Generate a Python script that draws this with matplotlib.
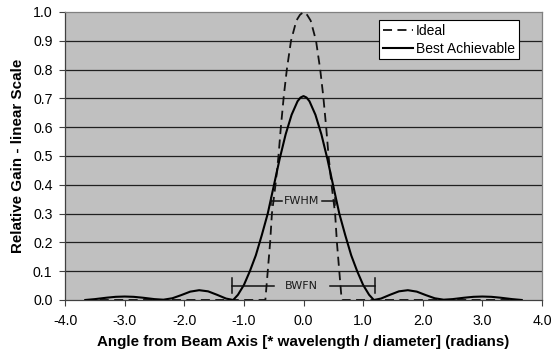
import matplotlib
matplotlib.use('Agg')
import matplotlib.pyplot as plt

plt.rcParams['font.family'] = ['Liberation Sans', 'DejaVu Sans']

# Best achievable pattern
best_x = [-3.66, -3.5, -3.3, -3.15, -3.0, -2.85, -2.7, -2.5, -2.35, -2.2, -2.05,
          -1.9, -1.75, -1.6, -1.45, -1.3, -1.18, -1.1, -1.0, -0.9, -0.8, -0.7,
          -0.6, -0.5, -0.4, -0.3, -0.2, -0.1, -0.05, 0.0,
          0.05, 0.1, 0.2, 0.3, 0.4, 0.5, 0.6, 0.7, 0.8, 0.9, 1.0, 1.1, 1.18, 1.3,
          1.45, 1.6, 1.75, 1.9, 2.05, 2.2, 2.35, 2.5, 2.7, 2.85, 3.0, 3.15,
          3.3, 3.5, 3.66]
best_y = [0.000, 0.003, 0.008, 0.011, 0.012, 0.011, 0.008, 0.003, 0.001, 0.006, 0.017,
          0.029, 0.034, 0.030, 0.018, 0.005, 0.000, 0.018, 0.052, 0.100, 0.155, 0.225,
          0.300, 0.395, 0.490, 0.575, 0.643, 0.690, 0.703, 0.708,
          0.703, 0.690, 0.643, 0.575, 0.490, 0.395, 0.300, 0.225, 0.155, 0.100, 0.052, 0.018, 0.000, 0.005,
          0.018, 0.030, 0.034, 0.029, 0.017, 0.006, 0.001, 0.003, 0.008, 0.011, 0.012, 0.011,
          0.008, 0.003, 0.000]

# Ideal pattern
ideal_x = [-3.66, -0.64, -0.60, -0.56, -0.53, -0.47, -0.42, -0.38, -0.33, -0.28,
           -0.21, -0.12, -0.06, 0.0, 0.06, 0.12, 0.21, 0.28, 0.33, 0.38, 0.42,
           0.47, 0.53, 0.56, 0.60, 0.64, 3.66]
ideal_y = [0.0, 0.0, 0.10, 0.20, 0.30, 0.40, 0.50, 0.60, 0.71, 0.80,
           0.90, 0.97, 0.99, 1.0, 0.99, 0.97, 0.90, 0.80, 0.71, 0.60, 0.50,
           0.40, 0.30, 0.20, 0.10, 0.0, 0.0]

# annotation brackets: (left end, inner end, inner start, right end, height)
fwhm = (-0.55, -0.36, 0.31, 0.52, 0.342)
bwfn = (-1.20, -0.49, 0.45, 1.20, 0.049)

fig = plt.figure(figsize=(5.51, 3.60), dpi=100)
ax = fig.add_axes([0.118, 0.1667, 0.8657, 0.80])
ax.set_facecolor('#C0C0C0')

for v in [0.1, 0.2, 0.3, 0.4, 0.5, 0.6, 0.7, 0.8, 0.9]:
    ax.axhline(v, color='#202020', linewidth=0.9, zorder=1)

ax.plot(ideal_x, ideal_y, color='#111111', linewidth=1.3, linestyle=(0, (5, 3)),
        label='Ideal', zorder=3)
ax.plot(best_x, best_y, color='#000000', linewidth=1.5, label='Best Achievable', zorder=4)

ann_kw = dict(color='#111111', linewidth=1.1, zorder=5)
for lo, li, ri, ro, h, tick, name in [(*fwhm, 0.011, 'FWHM'), (*bwfn, 0.026, 'BWFN')]:
    ax.plot([lo, li], [h, h], **ann_kw)
    ax.plot([ri, ro], [h, h], **ann_kw)
    ax.plot([lo, lo], [h - tick, h + tick], **ann_kw)
    ax.plot([ro, ro], [h - tick, h + tick], **ann_kw)
    ax.text(-0.03, h, name, ha='center', va='center', fontsize=8,
            family='DejaVu Sans', color='#1a1a1a', zorder=6)

ax.set_xlim(-4, 4)
ax.set_ylim(0, 1.0)
ax.set_xticks([-4, -3, -2, -1, 0, 1, 2, 3, 4])
ax.set_xticklabels([f'{v:.1f}' for v in [-4, -3, -2, -1, 0, 1, 2, 3, 4]])
ax.set_yticks([i / 10 for i in range(11)])
ax.set_yticklabels([f'{i / 10:.1f}' for i in range(11)])
ax.tick_params(axis='both', labelsize=10.2, length=4, width=0.8, color='#404040')
ax.tick_params(axis='x', pad=6)
ax.tick_params(axis='y', pad=5)

for s in ['top', 'right']:
    ax.spines[s].set_color('#808080')
for s in ['left', 'bottom']:
    ax.spines[s].set_color('#404040')
for s in ax.spines.values():
    s.set_linewidth(0.9)

ax.set_xlabel('Angle from Beam Axis [* wavelength / diameter] (radians)',
              fontsize=10.9, fontweight='bold', labelpad=5)
ax.set_ylabel('Relative Gain - linear Scale', fontsize=10.9, fontweight='bold', labelpad=6)

leg = ax.legend(loc='upper right', bbox_to_anchor=(0.951, 0.972), fontsize=10,
                frameon=True, fancybox=False, framealpha=1, edgecolor='black',
                handlelength=2.2, handletextpad=0.2, borderpad=0.25, labelspacing=0.3,
                borderaxespad=0)
leg.get_frame().set_linewidth(0.8)

fig.savefig('out.png', dpi=100)
